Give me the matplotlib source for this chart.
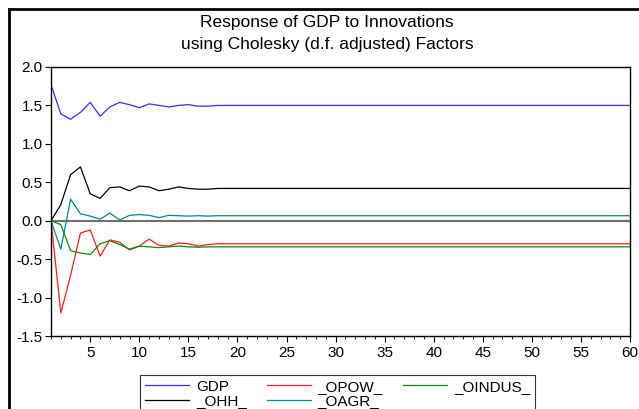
import matplotlib
matplotlib.use("Agg")
import matplotlib.pyplot as plt
from matplotlib.lines import Line2D
from matplotlib.ticker import MultipleLocator
import numpy as np

plt.rcParams['font.family'] = ['Liberation Sans', 'DejaVu Sans']

n_periods = 60
periods = np.arange(1, n_periods + 1)

# Impulse responses, periods 1-18; responses settle afterwards
gdp_head = [1.77, 1.39, 1.32, 1.41, 1.54, 1.36, 1.48, 1.54, 1.51, 1.47,
            1.52, 1.50, 1.48, 1.50, 1.51, 1.49, 1.49, 1.50]
ohh_head = [0.00, 0.21, 0.60, 0.70, 0.35, 0.29, 0.43, 0.44, 0.39, 0.45,
            0.44, 0.39, 0.41, 0.44, 0.42, 0.41, 0.41, 0.42]
opow_head = [0.00, -1.20, -0.71, -0.16, -0.12, -0.46, -0.25, -0.28, -0.38, -0.33,
             -0.24, -0.32, -0.33, -0.29, -0.30, -0.33, -0.31, -0.30]
oagr_head = [0.00, -0.37, 0.28, 0.09, 0.06, 0.02, 0.10, 0.01, 0.07, 0.08,
             0.07, 0.04, 0.07, 0.065, 0.06, 0.065, 0.06, 0.065]
oindus_head = [0.00, -0.05, -0.39, -0.42, -0.44, -0.30, -0.26, -0.31, -0.37, -0.33,
               -0.34, -0.35, -0.34, -0.33, -0.34, -0.345, -0.34, -0.34]

# Long-run levels the responses settle at
gdp_tail = 1.50
ohh_tail = 0.42
opow_tail = -0.30
oagr_tail = 0.065
oindus_tail = -0.34


def full_path(head, tail):
    return list(head) + [tail] * (n_periods - len(head))


series = [
    ("GDP", full_path(gdp_head, gdp_tail), "#3030ff"),
    ("_OHH_", full_path(ohh_head, ohh_tail), "#000000"),
    ("_OPOW_", full_path(opow_head, opow_tail), "#ff1a1a"),
    ("_OAGR_", full_path(oagr_head, oagr_tail), "#008b8b"),
    ("_OINDUS_", full_path(oindus_head, oindus_tail), "#0a8a0a"),
]

W, H = 639, 409
fig = plt.figure(figsize=(W / 100, H / 100), dpi=100)
ax = fig.add_axes([51 / W, 1 - 336 / H, (630 - 51) / W, (336 - 67) / H])

ax.axhline(0, color="#707070", lw=1.5, zorder=1)
handles = []
for name, vals, col in series:
    h, = ax.plot(periods, vals, color=col, lw=0.9, label=name, zorder=2)
    handles.append(h)

ax.set_xlim(1, 60)
ax.set_ylim(-1.5, 2.0)
ax.xaxis.set_minor_locator(MultipleLocator(1))
ax.set_xticks(np.arange(5, 61, 5))
ax.set_yticks(np.arange(-1.5, 2.01, 0.5))
ax.set_yticklabels([f"{v:.1f}" for v in np.arange(-1.5, 2.01, 0.5)])
ax.tick_params(axis="both", which="major", direction="out", length=4, width=0.8,
               labelsize=11, colors="black")
ax.tick_params(axis="x", which="minor", direction="out", length=2.5, width=0.6)
ax.tick_params(axis="x", pad=3)
ax.tick_params(axis="y", pad=2)
for sp in ax.spines.values():
    sp.set_linewidth(1.0)

fig.text(327 / W, 1 - 22 / H, "Response of GDP to Innovations", ha="center",
         va="center", fontsize=12.5)
fig.text(327 / W, 1 - 44 / H, "using Cholesky (d.f. adjusted) Factors", ha="center",
         va="center", fontsize=12.5)

leg = fig.legend(handles=handles, loc="upper left", ncol=3,
                 bbox_to_anchor=(140 / W, 1 - 375 / H), fontsize=11,
                 frameon=True, fancybox=False, edgecolor="black",
                 handlelength=2.9, handletextpad=0.45, columnspacing=1.3,
                 labelspacing=0.05, borderpad=0.3, borderaxespad=0)
leg.get_frame().set_linewidth(0.8)

# Outer frame around the graph
fig.add_artist(Line2D([9 / W, 9 / W], [0, 1 - 9 / H], color="black", lw=2,
                      transform=fig.transFigure))
fig.add_artist(Line2D([9 / W, 1], [1 - 9 / H, 1 - 9 / H], color="black", lw=2,
                      transform=fig.transFigure))

fig.savefig("out.png", dpi=100)
